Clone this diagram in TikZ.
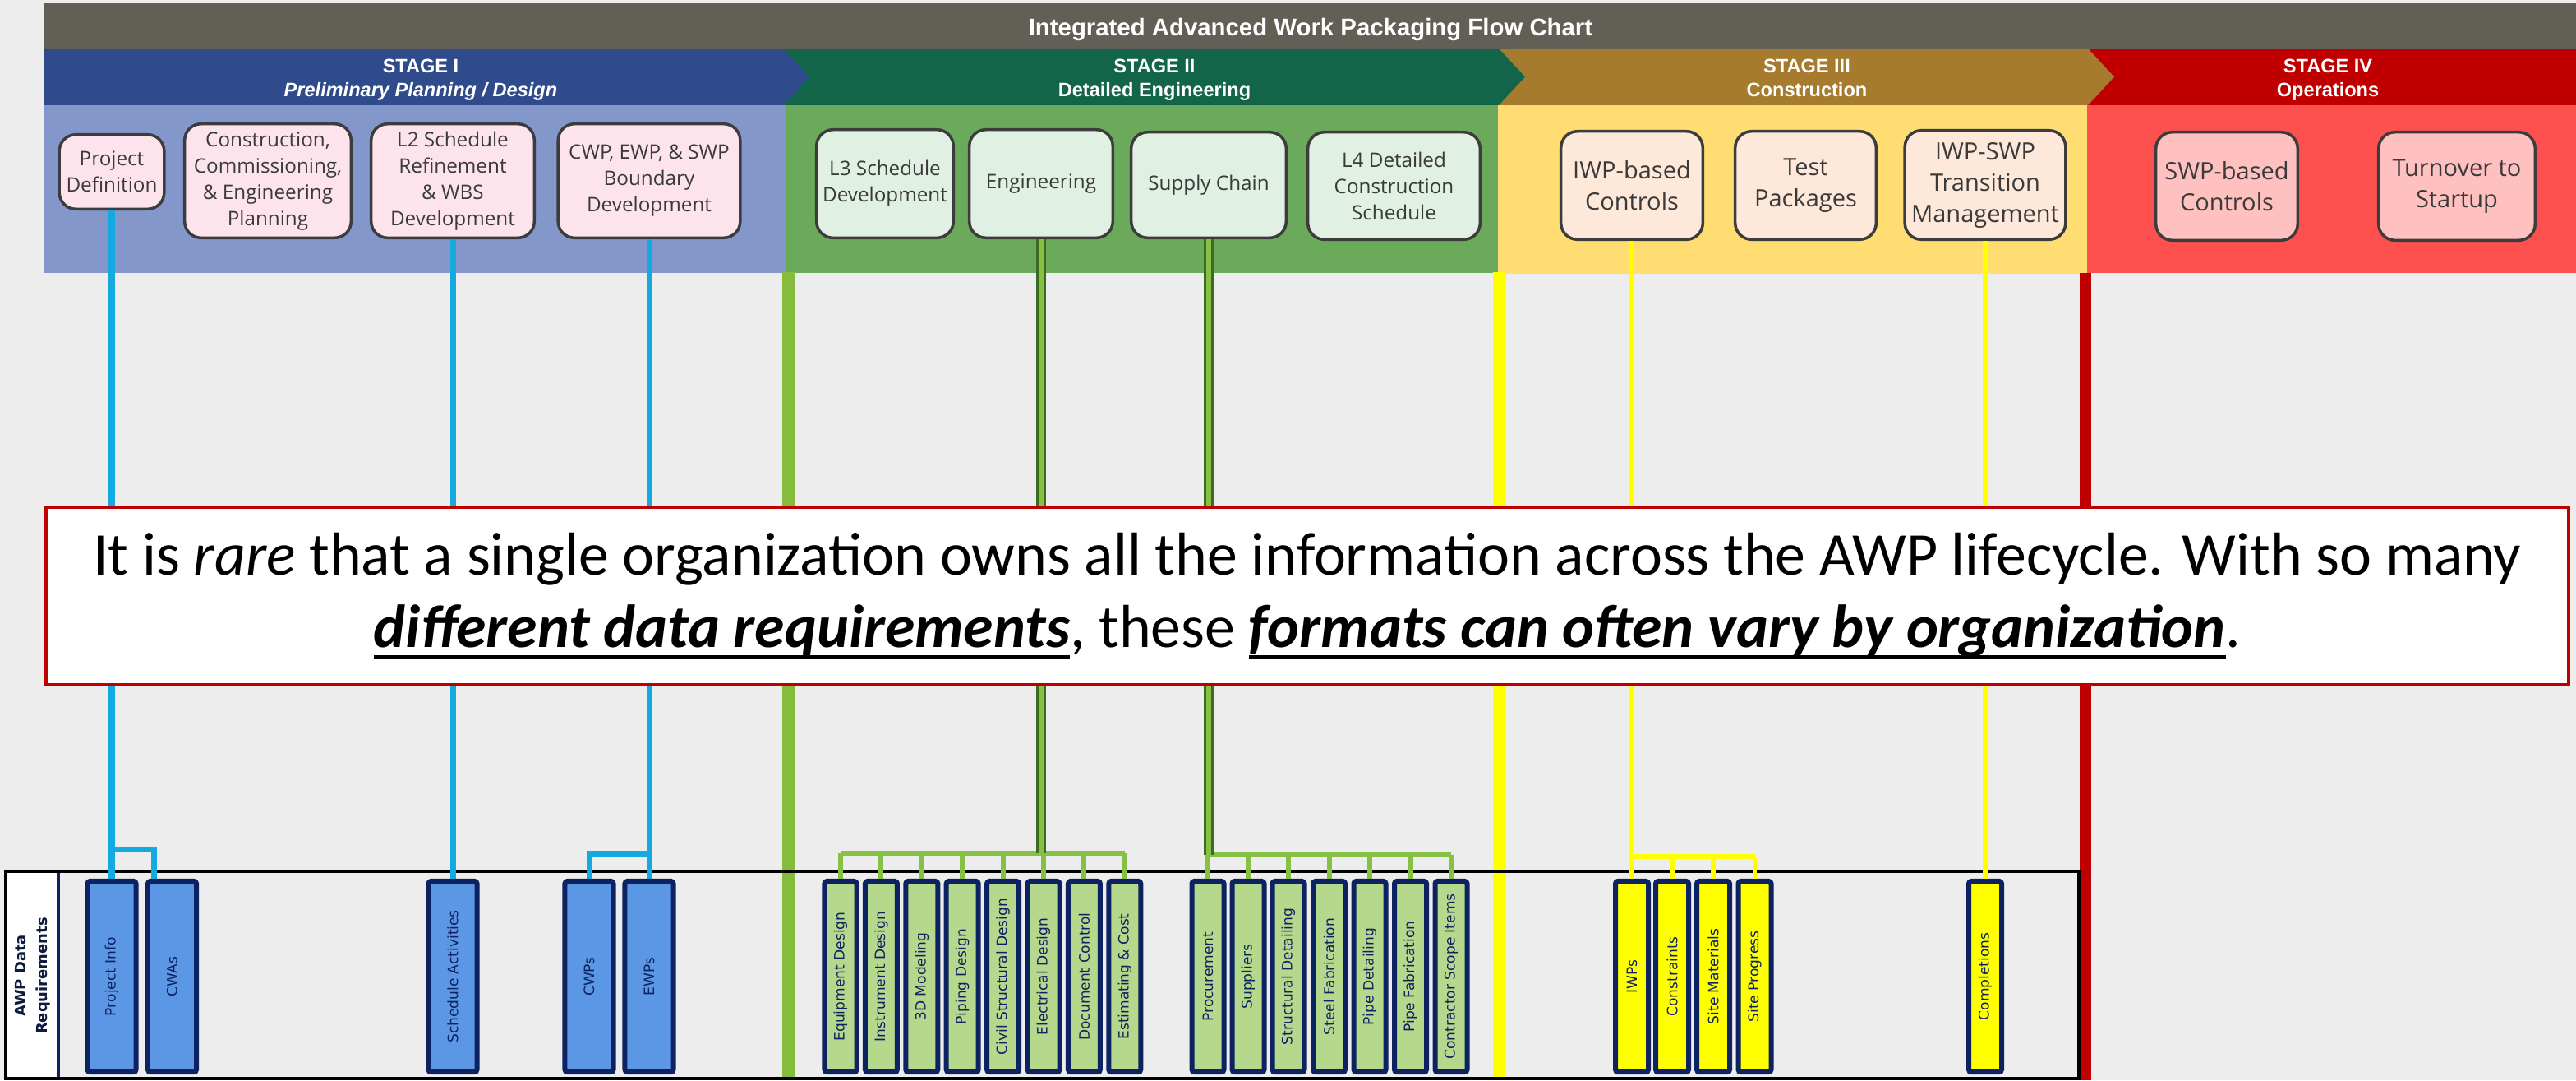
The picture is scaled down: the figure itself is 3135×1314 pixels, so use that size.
\documentclass[tikz,border=0pt]{standalone}
\usepackage{fontspec}
\setmainfont{Liberation Sans}
\newfontfamily\boxfont{Open Sans}
\newfontfamily\barfont{DejaVu Sans}
\newfontfamily\notefont{Carlito}

% underline with a rule set below the baseline
\newsavebox\ulsave
\newcommand{\ulined}[1]{\sbox\ulsave{#1}\rlap{\rule[-4.3pt]{\wd\ulsave}{1.4pt}}\usebox\ulsave}

\definecolor{pagebg}{HTML}{EDEDED}
\definecolor{titlegray}{HTML}{625F57}
\definecolor{banI}{HTML}{2F4B8C}
\definecolor{panI}{HTML}{8497CB}
\definecolor{banII}{HTML}{136549}
\definecolor{panII}{HTML}{6BAA5A}
\definecolor{banIII}{HTML}{A67B2D}
\definecolor{panIII}{HTML}{FFDD73}
\definecolor{banIV}{HTML}{C00000}
\definecolor{panIV}{HTML}{FF5050}
\definecolor{fillI}{HTML}{FDE4EC}
\definecolor{fillII}{HTML}{E0F0E2}
\definecolor{fillIII}{HTML}{FDE8DA}
\definecolor{fillIV}{HTML}{FFC0C0}
\definecolor{boxline}{HTML}{3C3C3C}
\definecolor{boxtext}{HTML}{3A3A3A}
\definecolor{barnavy}{HTML}{0D2260}
\definecolor{barblue}{HTML}{5B97E5}
\definecolor{bargreen}{HTML}{B6D88C}
\definecolor{baryellow}{HTML}{FFFF00}
\definecolor{lineblue}{HTML}{14A9DF}
\definecolor{linegreen}{HTML}{88BF45}
\definecolor{linegreendark}{HTML}{3C6B22}
\definecolor{lineyellow}{HTML}{FFFF00}
\definecolor{sepgreen}{HTML}{86BC3E}
\definecolor{sepred}{HTML}{C00000}
\definecolor{notered}{HTML}{C00000}
\definecolor{labelnavy}{HTML}{0D1B3E}

\tikzset{
  stagebox/.style={draw=boxline, line width=0.035cm, rounded corners=0.2cm,
    inner sep=0pt, align=center, text=boxtext},
  boxI/.style={stagebox, fill=fillI, font=\boxfont\fontsize{6.9pt}{9.1pt}\selectfont},
  boxII/.style={stagebox, fill=fillII, font=\boxfont\fontsize{6.9pt}{9.1pt}\selectfont},
  boxIII/.style={stagebox, fill=fillIII, font=\boxfont\fontsize{8.25pt}{10.8pt}\selectfont},
  boxIV/.style={stagebox, fill=fillIV, font=\boxfont\fontsize{8.25pt}{10.8pt}\selectfont},
  stagetitle/.style={anchor=base, text=white, inner sep=0pt,
    font=\fontsize{6.7pt}{8pt}\selectfont\bfseries},
  stagesub/.style={stagetitle},
  titletext/.style={anchor=base, text=white, inner sep=0pt,
    font=\fontsize{8.35pt}{10pt}\selectfont\bfseries},
  databar/.style={draw=barnavy, line width=0.06cm, rounded corners=0.03cm, rotate=90,
    inner sep=0pt, minimum width=2.32cm, text=barnavy,
    font=\barfont\fontsize{4.85pt}{6pt}\selectfont},
  bluebar/.style={databar, fill=barblue, minimum height=0.59cm},
  greenbar/.style={databar, fill=bargreen, minimum height=0.39cm},
  yellowbar/.style={databar, fill=baryellow, minimum height=0.40cm},
  blueconn/.style={draw=lineblue, line width=0.07cm},
  greenconn/.style={draw=linegreen, line width=0.06cm},
  trunk/.style={draw=linegreendark, double=linegreen, line width=0.03cm, double distance=0.06cm},
  yellowconn/.style={draw=lineyellow, line width=0.055cm},
  separator/.style={line width=0.16cm},
  awplabel/.style={rotate=90, align=center, inner sep=0pt, text=labelnavy,
    font=\barfont\fontsize{5.1pt}{7.4pt}\selectfont\bfseries},
  notebox/.style={draw=notered, line width=0.04cm, fill=white, inner sep=0pt,
    minimum width=30.68cm, minimum height=2.16cm, align=center,
    font=\notefont\fontsize{21pt}{25pt}\selectfont}
}

\begin{document}
\begin{tikzpicture}[x=0.01cm, y=-0.01cm]
\useasboundingbox (0,0) rectangle (3135,1314);
\fill[pagebg] (0,0) rectangle (3135,1314);

% title bar
\fill[titlegray] (54,4) rectangle (3135,59);
\node[titletext] (title) at (1595,43) {Integrated Advanced Work Packaging Flow Chart};

% stage chevrons
\fill[banIV] (2541,59) rectangle (3135,128);
\fill[banIII] (1824,59) -- (2541,59) -- (2573,93.5) -- (2541,128) -- (1824,128) -- cycle;
\fill[banII] (953,59) -- (1824,59) -- (1856,93.5) -- (1824,128) -- (953,128) -- cycle;
\fill[banI] (54,59) -- (953,59) -- (985,93.5) -- (953,128) -- (54,128) -- cycle;

\node[stagetitle] (s1a) at (512,88) {STAGE I};
\node[stagesub, font=\fontsize{6.7pt}{8pt}\selectfont\bfseries\itshape] (s1b) at (512,117) {Preliminary Planning / Design};
\node[stagetitle] (s2a) at (1405,88) {STAGE II};
\node[stagesub] (s2b) at (1405,117) {Detailed Engineering};
\node[stagetitle] (s3a) at (2199,88) {STAGE III};
\node[stagesub] (s3b) at (2199,117) {Construction};
\node[stagetitle] (s4a) at (2833,88) {STAGE IV};
\node[stagesub] (s4b) at (2833,117) {Operations};

% stage panels
\fill[panI] (54,128) rectangle (956,332);
\fill[panII] (956,128) rectangle (1823,332);
\fill[panIII] (1823,128) rectangle (2540,333);
\fill[panIV] (2540,128) rectangle (3135,332);

% stage I activities
\node[boxI, minimum width=1.275cm, minimum height=0.905cm] (pdef) at (136,209) {Project\\Definition};
\node[boxI, minimum width=2.025cm, minimum height=1.385cm] (ccep) at (326,220) {Construction,\\Commissioning,\\\& Engineering\\Planning};
\node[boxI, minimum width=1.985cm, minimum height=1.385cm] (l2) at (551,220) {L2 Schedule\\Refinement\\\& WBS\\Development};
\node[boxI, minimum width=2.215cm, minimum height=1.385cm] (cwpb) at (790,220) {CWP, EWP, \& SWP\\Boundary\\Development};

% stage II activities
\node[boxII, minimum width=1.665cm, minimum height=1.315cm] (l3) at (1077,223.5) {L3 Schedule\\Development};
\node[boxII, minimum width=1.745cm, minimum height=1.315cm] (eng) at (1267,223.5) {Engineering};
\node[boxII, minimum width=1.885cm, minimum height=1.285cm] (sc) at (1471,225) {Supply Chain};
\node[boxII, minimum width=2.095cm, minimum height=1.305cm] (l4) at (1696.5,226) {L4 Detailed\\Construction\\Schedule};

% stage III activities
\node[boxIII, minimum width=1.725cm, minimum height=1.315cm] (iwpc) at (1986,225.5) {IWP-based\\Controls};
\node[boxIII, minimum width=1.715cm, minimum height=1.315cm] (tp) at (2197.5,225.5) {Test\\Packages};
\node[boxIII, minimum width=1.955cm, minimum height=1.325cm] (trans) at (2416,225) {IWP-SWP\\Transition\\Management};

% stage IV activities
\node[boxIV, minimum width=1.725cm, minimum height=1.315cm] (swpc) at (2710,226.5) {SWP-based\\Controls};
\node[boxIV, minimum width=1.905cm, minimum height=1.315cm] (turn) at (2990,226.5) {Turnover to\\Startup};

% stage separators
\draw[separator, draw=sepgreen] (960,331) -- (960,1314);
\draw[separator, draw=lineyellow] (1825,331) -- (1825,1314);
\draw[separator, line width=0.14cm, draw=sepred] (2538,332) -- (2538,1314);

% data requirements row
\draw[black, line width=0.04cm] (7,1060) rectangle (2530,1312);
\filldraw[fill=white, draw=black, line width=0.04cm] (7,1060) rectangle (71,1312);
\draw[barnavy, line width=0.03cm] (71,1062) -- (71,1310);
\node[awplabel] (awp) at (40,1187) {AWP Data\\Requirements};

% blue data items
\node[bluebar] (pinfo) at (136,1188) {Project Info};
\node[bluebar] (cwas) at (209.5,1188) {CWAs};
\node[bluebar] (sched) at (551,1188) {Schedule Activities};
\node[bluebar] (cwps) at (717,1188) {CWPs};
\node[bluebar] (ewps) at (790,1188) {EWPs};

% green data items, engineering
\node[greenbar] (ed) at (1023,1188) {Equipment Design};
\node[greenbar] (instd) at (1072.4,1188) {Instrument Design};
\node[greenbar] (tdm) at (1121.8,1188) {3D Modeling};
\node[greenbar] (pipd) at (1171.2,1188) {Piping Design};
\node[greenbar] (csd) at (1220.6,1188) {Civil Structural Design};
\node[greenbar] (eld) at (1270,1188) {Electrical Design};
\node[greenbar] (dctl) at (1319.4,1188) {Document Control};
\node[greenbar] (estc) at (1368.8,1188) {Estimating \& Cost};

% green data items, supply chain
\node[greenbar] (proc) at (1470,1188) {Procurement};
\node[greenbar] (supl) at (1519,1188) {Suppliers};
\node[greenbar] (strd) at (1568,1188) {Structural Detailing};
\node[greenbar] (stfb) at (1617.5,1188) {Steel Fabrication};
\node[greenbar] (ppdt) at (1667,1188) {Pipe Detailing};
\node[greenbar] (ppfb) at (1716.5,1188) {Pipe Fabrication};
\node[greenbar] (csi) at (1766,1188) {Contractor Scope Items};

% yellow data items
\node[yellowbar] (iwps) at (1986,1188) {IWPs};
\node[yellowbar] (cons) at (2035,1188) {Constraints};
\node[yellowbar] (smat) at (2085,1188) {Site Materials};
\node[yellowbar] (sprog) at (2135.5,1188) {Site Progress};
\node[yellowbar] (compl) at (2416,1188) {Completions};

% stage I connectors
\coordinate (jpd) at (136,1033);
\coordinate (jcwp) at (790,1038);
\draw[blueconn] (pdef.south) -- (pinfo.east);
\draw[blueconn] (jpd) -| ([xshift=-0.215cm]cwas.east);
\draw[blueconn] (l2.south) -- (sched.east);
\draw[blueconn] (cwpb.south) -- (ewps.east);
\draw[blueconn] (jcwp) -| (cwps.east);

% engineering connectors
\coordinate (jeng) at (1267,1038);
\draw[greenconn] (ed.east |- jeng) -- (estc.east |- jeng);
\foreach \b in {ed,instd,tdm,pipd,csd,eld,dctl,estc}
  \draw[greenconn] (\b.east |- jeng) -- (\b.east);
\draw[trunk] (eng.south) -- (jeng);

% supply chain connectors
\coordinate (jsc) at (1471,1040);
\draw[greenconn] (proc.east |- jsc) -- (csi.east |- jsc);
\foreach \b in {proc,supl,strd,stfb,ppdt,ppfb,csi}
  \draw[greenconn] (\b.east |- jsc) -- (\b.east);
\draw[trunk] (sc.south) -- (jsc);

% stage III connectors
\coordinate (jiwp) at (1986,1042);
\draw[yellowconn] (iwpc.south) -- (iwps.east);
\draw[yellowconn] (jiwp) -- (sprog.east |- jiwp);
\foreach \b in {cons,smat,sprog}
  \draw[yellowconn] (\b.east |- jiwp) -- (\b.east);
\draw[yellowconn] (trans.south) -- (compl.east);

% message box
\node[notebox] (note) at (1591,725) {It is \textit{rare} that a single organization owns all the information across the AWP lifecycle. With so many\\
{\bfseries\itshape\ulined{different data requirements}}, these {\bfseries\itshape\ulined{formats can often vary by organization}}.};
\end{tikzpicture}
\end{document}
